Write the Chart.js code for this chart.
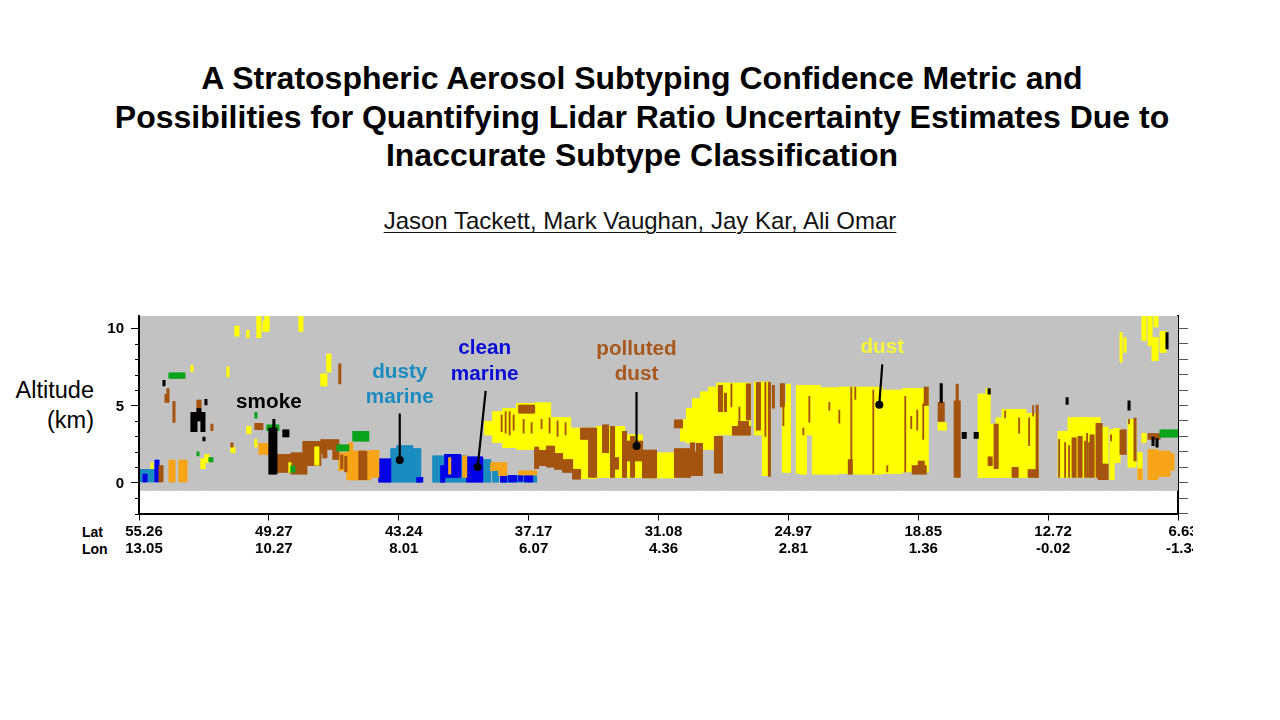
<!DOCTYPE html>
<html>
<head>
<meta charset="utf-8">
<script src="https://cdn.jsdelivr.net/npm/chart.js@4"></script>
<style>
html,body{margin:0;padding:0;background:#fff;width:1280px;height:720px;overflow:hidden;font-family:"Liberation Sans",Arial,sans-serif;}
.t{position:absolute;white-space:nowrap;color:#000;}
#title{left:0;width:1284px;top:59px;text-align:center;font-weight:bold;font-size:32px;line-height:38.5px;}
#authors{left:0;width:1280px;top:207px;text-align:center;font-size:24px;line-height:28px;text-decoration:underline;text-decoration-thickness:1px;text-underline-offset:3px;color:#111;}
#alt{left:0;width:94px;top:376px;text-align:right;font-size:23.5px;line-height:29.5px;}
#lat{left:82px;top:524px;font-weight:bold;font-size:14px;line-height:17px;}
canvas{position:absolute;left:0;top:300px;}
</style>
</head>
<body>
<div class="t" id="title">A Stratospheric Aerosol Subtyping Confidence Metric and<br>Possibilities for Quantifying Lidar Ratio Uncertainty Estimates Due to<br>Inaccurate Subtype Classification</div>
<div class="t" id="authors">Jason Tackett, Mark Vaughan, Jay Kar, Ali Omar</div>
<div class="t" id="alt">Altitude<br>(km)</div>
<div class="t" id="lat">Lat<br>Lon</div>
<canvas id="c" width="1193" height="270"></canvas>
<script>
// Along-track profile ticks
const tickProfiles = [0,65,130,195,260,325,390,455,520];
const latLabels = ["55.26","49.27","43.24","37.17","31.08","24.97","18.85","12.72","6.63"];
const lonLabels = ["13.05","10.27","8.01","6.07","4.36","2.81","1.36","-0.02","-1.34"];
const profileCount = 520;
const altitudeMin = -2, altitudeMax = 10.8;

// Each span: [first profile, end profile, base km, top km]
const noAerosolSpans = [[0,520,-0.51,10.8]];
const dustSpans = [
[48,50,9.5,10.15],[54,55,9.4,9.87],[59,61,9.4,10.8],[62,65,9.8,10.47],[63,65,9.85,10.8],[80,82,9.8,10.8],
[26,27,7.2,7.6],[44,45,6.85,7.5],[94,96,7.17,8.33],[91,94,6.27,7.06],
[6,7,.8,1.3],[31,33,.9,1.55],[33,35,1.3,1.83],[46,48,1.95,2.3],[54,56,3.18,3.65],[58,59,2.32,2.8],
[173,177,3.1,3.97],[177,182,2.6,4.6],[182,189,2.26,4.82],[189,198,2.15,5.14],[198,206,2.15,5.18],[206,216,1.5,4.22],
[216,221,.8,3.54],[221,229,.25,3.54],[229,243,.34,3.65],[243,252,.34,3.1],[252,259,.3,2.1],[259,269,.3,1.94],
[271,274,2.7,4.07],[274,277,2.58,4.82],[277,281,2.6,5.46],[281,285,2.15,5.88],[285,289,2.15,6.2],[289,298,3.1,6.46],
[298,306,3.1,6.46],[308,312,3.1,6.52],[312,316,.45,6.52],[322,324,.66,5.14],[324,326,.66,6.38],[329,331,.6,6.3],
[331,334,.55,6.3],[334,337,3.1,6.3],[337,341,.55,6.3],[341,350,.55,6.15],[350,358,.6,6.2],[358,372,.55,6.2],
[372,382,.6,6.0],[382,395,.7,6.1],[400,404,3.4,3.9],
[420,424,.34,5.74],[424,426,.34,6.1],[426,429,.34,3.8],[429,432,.34,4.2],[432,444,.34,4.75],[444,450,.34,4.5],
[460,465,.34,3.33],[465,481,.34,4.22],[481,485,.3,3.6],[486,488,.2,3.45],[488,491,1.3,3.5],[495,499,1,4.1],[500,502,.2,1.95],[502,504,2.6,3.2],
[491,492,7.8,9.72],[493,494,8.44,9.4],[502,504,9.2,10.8],[505,507,8.87,10.8],[507,510,7.9,9.4],[508,510,10.1,10.8],[511,514,8.44,9.8]
];
const dustyMarineSpans = [
[0,8,.05,.87],[126,141,0,2.2],[129,137,2.15,2.4],[147,153,0,1.73],[153,160,0,.6],[160,164,0,1.73],[172,176,0,1.5],[177,180,0,.77],[181,199,0,.45]
];
const cleanMarineSpans = [
[2,4,.05,.55],[8,10,.05,1.47],[120,126,0,1.55],[139,142,0,.34],[151,153,0,1.1],[153,161,.34,1.83],[164,172,0,1.68],
[181,184,0,.55],[185,189,.05,.45],[190,192,.1,.45],[193,197,.05,.45]
];
const pollutedContinentalSpans = [
[15,18,.05,1.47],[20,24,.05,1.47],[60,65,1.83,2.54],[100,104,.77,1.94],[104,110,.17,2.05],[105,107,1.94,2.58],[110,116,.17,2.05],[116,120,.34,2.1],
[155,156,.55,1.62],[162,164,.34,1.73],[176,184,.77,1.3],[180,184,.45,.77],[190,199,.5,.77],[500,502,.2,.9],[505,510,.2,2.15],[510,516,.4,2.05],[516,518,.8,1.9]
];
const pollutedDustSpans = [
[10,12,.05,1.1],[13,15,5.2,5.73],[14,15,5.73,6.1],[17,18,3.9,5.27],[36,37,3.37,3.8],[46,47,2.3,2.58],[58,62,3.43,3.85],[100,101,6.4,7.7],[29,31,4.8,5.35],
[69,76,.66,1.83],[76,84,.55,1.94],[82,91,1.1,2.68],[91,94,1.9,2.79],[94,100,2.15,2.79],[92,94,1.6,1.9],[97,100,1.5,2.15],[101,102,.9,1.8],[103,104,.7,1.7],[110,114,.2,2.05],
[190,198,4.5,5.03],[198,200,.9,2.3],[200,204,1.1,2.1],[204,208,1,2.37],[208,212,.85,1.9],[212,217,.66,1.5],[217,221,.23,.87],
[221,229,2.8,3.54],[225,229,.34,2.8],[232,235,1.94,3.75],[236,238,.34,3.65],[238,240,.87,1.62],[242,244,.34,3.33],[244,252,1.4,2.69],[246,248,.34,3],[252,259,.3,2.11],
[268,276,.34,2.2],[276,278,.45,2.58],[278,279,.45,2],[279,282,.45,2.54],[268,272,3.54,4.07],[288,292,.62,3],
[290,292,4.6,6.3],[293,294,4.6,5.8],[304,306,4.07,6.4],[297,306,3.07,3.65],[300,305,3.65,3.97],
[309,311,3.4,6.5],[315,316,.4,6.52],[317,318,4.82,6.3],[321,323,4.9,6.42],
[355,357,.55,1.5],[393,395,5,6.2],[387,394,.55,1.1],[390,393,1.1,1.4],
[400,403,3.97,5.2],[408,411,.34,5.3],[409,410,5.3,6.38],[425,427,1.1,1.68],[428,430,.9,3.8],[449,450,.34,5.03],[437,440,.34,1],[445,450,.34,.85],
[467,469,.34,2.9],[470,472,.34,3],[476,478,.34,3.1],[479,482,.34,3.85],[480,485,.2,1.2],
[491,494,1.83,3.43],[498,499,1.4,4.18],[505,511,2.8,3.18]
];
const pollutedDustThinSpans = [
[181,182,3.3,4.4],[183,184,3.2,4.6],[185,186,3.1,4.6],[187,188,3.4,4.4],[192,193,3.2,4.1],[196,197,3.2,3.9],[201,202,3.5,4.1],[205,206,3.2,4.2],[209,210,3,4],[213,214,3.1,3.9],
[296,297,4.9,6.4],[300,301,3.6,4.9],[313,314,3,6.5],[322,323,3.7,4.9],[356,357,1.5,6.2],[332,333,3.1,3.54],[335,336,3.9,5.6],[345,346,4.7,5.2],[350,351,3.85,4.7],[358,359,5.4,6.2],[367,368,.6,6],
[374,375,.7,1.1],[383,384,.7,5.6],[386,387,3.5,4.3],[389,390,3.4,4.7],[392,393,2.8,5.1],[433,434,4.2,4.65],[440,441,3.2,4.2],[445,446,2.4,4.2],[447,448,4.3,5],
[460,461,.34,2.8],[463,464,.34,2.6],[465,466,.34,2.4],[474,475,.34,3.2],[473,474,.34,2.7],[475,476,.34,2.6],[486,487,2.7,3.1],[495,496,3.8,4.1]
];
const dustOverSpans = [[88,90,1.13,2.32],[75,76,.66,1.3]];
const cleanContinentalSpans = [
[15,23,6.75,7.12],[29,30,1.73,2],[35,37,1.35,1.62],[58,59,4.18,4.55],[64,70,3.37,3.75],[76,78,.66,1.09],[99,105,2.05,2.45],[107,115,2.68,3.33],[511,520,2.94,3.43]
];
const smokeSpans = [
[12,13,6.27,6.63],[26,29,3.3,4.55],[29,31,4,4.8],[31,33,3.3,4.55],[33,34,5.03,5.4],[32,33,2.7,2.95],[65,69,.55,3.54],[67,68,3.54,4.1],[72,75,2.96,3.43],
[401,402,5.2,6.42],[412,414,2.86,3.26],[418,420,2.86,3.26],[425,426,5.74,6.1],[464,465,5.07,5.52],[495,496,4.7,5.3],[507,508,2.4,2.95],[509,510,2.3,2.85],[514,515,8.66,9.72]
];

// Callouts
const calloutDusty = [[130.5,4.48],[130.5,1.47]];
const calloutClean = [[173.5,5.95],[169.5,1.02]];
const calloutPolluted = [[249,5.88],[249,2.37]];
const calloutDust = [[372,7.67],[370.5,5.05]];
const labelTexts = ["smoke","dusty","marine","clean","marine","polluted","dust","dust"];
const labelProfiles = [65,130.5,130.5,173,173,249,249,372];
const labelAltitudes = [5.18,7.16,5.56,8.7,7.03,8.63,7.03,8.76];
const labelColors = ["#000000","#1a8cc0","#1a8cc0","#0a0ad8","#0a0ad8","#a8581c","#a8581c","#f5f53a"];

function toBars(spans){
  const out=[];
  for(const s of spans){ for(let i=s[0];i<s[1];i++){ out.push({x:i+0.5,y:[s[2],s[3]]}); } }
  return out;
}
function barSet(name,spans,color,order,thickness){
  return {type:'bar',label:name,data:toBars(spans),backgroundColor:color,borderWidth:0,barThickness:thickness||2.4,grouped:false,order:order,xAxisID:'x',yAxisID:'y'};
}
function lineSet(name,pts){
  return {type:'line',label:name,data:pts.map(p=>({x:p[0],y:p[1]})),borderColor:'#000',backgroundColor:'#000',borderWidth:2.2,pointRadius:[0,4],pointBorderWidth:0,tension:0,order:1,xAxisID:'x',yAxisID:'y'};
}
const annotate={
  id:'annotate',
  afterDatasetsDraw(chart){
    const ctx=chart.ctx,x=chart.scales.x,y=chart.scales.y;
    ctx.save();
    ctx.font='bold 20.7px "Liberation Sans"';
    ctx.textAlign='center';ctx.textBaseline='middle';
    labelTexts.forEach((t,i)=>{ctx.fillStyle=labelColors[i];ctx.fillText(t,x.getPixelForValue(labelProfiles[i]),y.getPixelForValue(labelAltitudes[i]));});
    ctx.strokeStyle='#000';ctx.lineWidth=1;
    y.ticks.forEach(t=>{ if(t.value%5!==0){const p=Math.round(y.getPixelForValue(t.value))+0.5;ctx.beginPath();ctx.moveTo(x.left-4,p);ctx.lineTo(x.left,p);ctx.stroke();}});
    ctx.restore();
  }
};
new Chart(document.getElementById('c'),{
  type:'bar',
  plugins:[annotate],
  data:{datasets:[
    barSet('No aerosol',noAerosolSpans,'#c2c2c2',20),
    barSet('Dust',dustSpans,'#ffff00',19),
    barSet('Dusty marine',dustyMarineSpans,'#1a8cc0',18),
    barSet('Clean marine',cleanMarineSpans,'#0000e6',17),
    barSet('Polluted continental',pollutedContinentalSpans,'#f7a418',16),
    barSet('Polluted dust',pollutedDustSpans,'#a5540f',15),
    barSet('Polluted dust thin',pollutedDustThinSpans,'#a5540f',15,1.2),
    barSet('Dust overlay',dustOverSpans,'#ffff00',14),
    barSet('Clean continental',cleanContinentalSpans,'#0ca31c',13),
    barSet('Smoke',smokeSpans,'#000000',12),
    lineSet('dusty marine callout',calloutDusty),
    lineSet('clean marine callout',calloutClean),
    lineSet('polluted dust callout',calloutPolluted),
    lineSet('dust callout',calloutDust)
  ]},
  options:{
    responsive:false,animation:false,
    layout:{padding:{top:13,left:0,right:0,bottom:0}},
    plugins:{legend:{display:false},tooltip:{enabled:false},title:{display:false}},
    scales:{
      x:{type:'linear',position:'bottom',min:0,max:profileCount,offset:false,
        afterBuildTicks(s){s.ticks=tickProfiles.map(v=>({value:v}));},
        afterFit(s){s.height=56.5;s.paddingLeft=0;s.paddingRight=0;},
        grid:{offset:false,drawOnChartArea:false,drawTicks:true,tickLength:7,tickColor:'#000',tickWidth:1},
        border:{color:'#000',width:2,z:1},
        ticks:{autoSkip:false,maxRotation:0,minRotation:0,padding:3,labelOffset:5,color:'#000',
          font:{family:'"Liberation Sans"',size:15,weight:'bold',lineHeight:1.13},
          callback(v){const i=tickProfiles.indexOf(v);return i<0?'':[latLabels[i],lonLabels[i]];}}
      },
      y:{type:'linear',position:'left',min:altitudeMin,max:altitudeMax,
        afterFit(s){s.width=139;},
        grid:{drawOnChartArea:false,drawTicks:true,tickLength:8,tickWidth:1,tickColor:c=>c.tick&&c.tick.value%5===0?'#000':'rgba(0,0,0,0)'},
        border:{color:'#000',width:2,z:1},
        ticks:{stepSize:1,includeBounds:false,autoSkip:false,padding:7,labelOffset:1,color:'#000',
          font:{family:'"Liberation Sans"',size:15,weight:'bold'},
          callback(v){return v%5===0?String(v):'';}}
      },
      yRight:{type:'linear',position:'right',min:altitudeMin,max:altitudeMax,
        afterFit(s){s.width=15;},
        grid:{drawOnChartArea:false,drawTicks:true,tickLength:10,tickWidth:1,tickColor:'#555'},
        border:{color:'#000',width:2},
        ticks:{stepSize:1,includeBounds:false,display:false}
      }
    }
  }
});
</script>
</body>
</html>
